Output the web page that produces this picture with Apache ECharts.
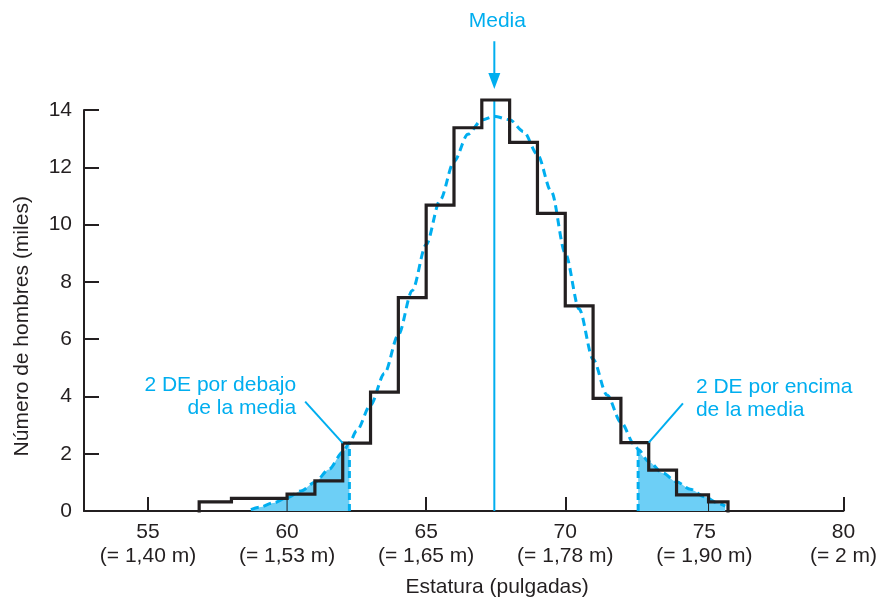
<!DOCTYPE html>
<html>
<head>
<meta charset="utf-8">
<script src="https://cdn.jsdelivr.net/npm/echarts@6/dist/echarts.min.js"></script>
<style>
  html, body { margin: 0; padding: 0; background: #ffffff; }
  #chart { width: 880px; height: 599px; }
</style>
</head>
<body>
<div id="chart"></div>
<script>
// Height classes (inches) and number of men per class (thousands)
const binEdges = [56.84, 58, 60, 61, 62, 63, 64, 65, 66, 67, 68, 69, 70, 71, 72, 73, 74, 75.15, 75.85];
const binCounts = [0.32, 0.44, 0.59, 1.05, 2.37, 4.15, 7.45, 10.68, 13.38, 14.35, 12.87, 10.39, 7.16, 3.93, 2.39, 1.43, 0.56, 0.32];

// Internal class boundaries drawn as thin rules down to the axis
const thinEdges = [60, 75.15];

// Fitted bell curve, sampled points (inches, thousands)
const curveX = [58.7, 59.0, 59.5, 60.0, 60.5, 61.0, 61.5, 62.0, 62.24, 62.5,
                63.0, 63.5, 64.0, 64.5, 65.0, 65.5, 66.0, 66.5, 67.0, 67.45,
                68.0, 68.5, 69.0, 69.5, 70.0, 70.5, 71.0, 71.5, 72.0, 72.5,
                72.62, 73.0, 73.5, 74.0, 74.5, 75.0, 75.5, 75.75];
const curveY = [0.05, 0.13, 0.28, 0.46, 0.7, 1.0, 1.45, 2.05, 2.38, 2.8,
                3.7, 4.8, 6.15, 7.7, 9.3, 10.85, 12.2, 13.15, 13.65, 13.78,
                13.66, 13.25, 12.45, 11.15, 9.0, 7.05, 5.3, 4.05, 3.1, 2.3,
                2.15, 1.72, 1.33, 1.02, 0.76, 0.5, 0.27, 0.17];

// Mean and the two-standard-deviation limits
const meanX = 67.45;
const sdLow = 62.24;
const sdHigh = 72.62;

// Axis ticks and their metric equivalents
const xTicks = [55, 60, 65, 70, 75, 80];
const metricLabels = ['1,40 m', '1,53 m', '1,65 m', '1,78 m', '1,90 m', '2 m'];

// Leader line start points for the two notes
const noteLowStart = [60.65, 3.82];
const noteHighStart = [74.23, 3.76];

// Arrow marking the mean: tail and tip heights (thousands)
const arrowTail = 16.4;
const arrowTip = 14.73;

const BLUE = '#00aeef';
const FILL = '#6dcff6';
const INK = '#231f20';
const FONT = '"Liberation Sans", Arial, Helvetica, sans-serif';
const FS = 21;

// Outline of the histogram as one stepped path
const histPts = [[binEdges[0], 0]];
binCounts.forEach((c, i) => {
  histPts.push([binEdges[i], c], [binEdges[i + 1], c]);
});
histPts.push([binEdges[binEdges.length - 1], 0]);

function binHeightAt(x) {
  for (let i = 0; i < binCounts.length; i++) {
    if (x >= binEdges[i] && x < binEdges[i + 1]) return binCounts[i];
  }
  return 0;
}
function edgeLowerHeight(x) {
  const i = binEdges.indexOf(x);
  return Math.min(binCounts[i - 1], binCounts[i]);
}

const curvePts = curveX.map((x, i) => [x, curveY[i]]);
const lowTail = curvePts.filter(p => p[0] <= sdLow + 1e-9);
const highTail = curvePts.filter(p => p[0] >= sdHigh - 1e-9);
const curveAt = x => curveY[curveX.indexOf(x)];

const plain = { showSymbol: false, symbol: 'none', silent: true, animation: false, clip: false };
const SMOOTH = 0.3;

const series = [
  Object.assign({
    type: 'line', data: lowTail, smooth: SMOOTH, smoothMonotone: 'x', z: 1,
    lineStyle: { width: 0 }, areaStyle: { color: FILL, opacity: 1 }
  }, plain),
  Object.assign({
    type: 'line', data: highTail, smooth: SMOOTH, smoothMonotone: 'x', z: 1,
    lineStyle: { width: 0 }, areaStyle: { color: FILL, opacity: 1 }
  }, plain),
  Object.assign({
    type: 'line', data: curvePts, smooth: SMOOTH, smoothMonotone: 'x', z: 3,
    lineStyle: { color: BLUE, width: 3, type: [8, 5] }
  }, plain),
  Object.assign({
    type: 'line', data: [[sdLow, 0], [sdLow, curveAt(sdLow)]], z: 3,
    lineStyle: { color: BLUE, width: 3, type: [7, 4] }
  }, plain),
  Object.assign({
    type: 'line', data: [[sdHigh, 0], [sdHigh, curveAt(sdHigh)]], z: 3,
    lineStyle: { color: BLUE, width: 3, type: [7, 4] }
  }, plain),
  Object.assign({
    type: 'line', data: [[meanX, 0], [meanX, binHeightAt(meanX)]], z: 4,
    lineStyle: { color: BLUE, width: 2 }
  }, plain),
  Object.assign({
    type: 'line', data: histPts, z: 6,
    lineStyle: { color: INK, width: 3.2, join: 'miter', cap: 'square' }
  }, plain)
];

thinEdges.forEach(x => {
  series.push(Object.assign({
    type: 'line', data: [[x, 0], [x, edgeLowerHeight(x)]], z: 5,
    lineStyle: { color: INK, width: 1 }
  }, plain));
});

// Leader lines from the notes to the histogram corners at the 2 SD classes
series.push(Object.assign({
  type: 'line', data: [noteLowStart, [62, binHeightAt(62)]], z: 7,
  lineStyle: { color: BLUE, width: 2 }
}, plain));
series.push(Object.assign({
  type: 'line', data: [noteHighStart, [73, binHeightAt(72.5)]], z: 7,
  lineStyle: { color: BLUE, width: 2 }
}, plain));

const chart = echarts.init(document.getElementById('chart'));
chart.setOption({
  animation: false,
  backgroundColor: '#ffffff',
  grid: { left: 84, right: 33, top: 110, bottom: 88 },
  xAxis: {
    type: 'value', min: 52.7, max: 80,
    axisLine: { show: true, lineStyle: { color: INK, width: 2 } },
    axisTick: { show: true, inside: true, length: 14, customValues: xTicks,
                lineStyle: { color: INK, width: 2 } },
    axisLabel: {
      customValues: xTicks,
      formatter: v => v + '\n(= ' + metricLabels[xTicks.indexOf(v)] + ')',
      color: INK, fontSize: FS, lineHeight: 24, margin: 9, fontFamily: FONT
    },
    splitLine: { show: false }
  },
  yAxis: {
    type: 'value', min: 0, max: 14, interval: 2,
    axisLine: { show: true, lineStyle: { color: INK, width: 2 } },
    axisTick: { show: true, inside: true, length: 15, lineStyle: { color: INK, width: 2 } },
    axisLabel: { color: INK, fontSize: FS, margin: 12, fontFamily: FONT },
    splitLine: { show: false }
  },
  series: series
});

// Axis titles, notes and the mean arrow, placed from data coordinates
const toPx = p => chart.convertToPixel({ gridIndex: 0 }, p);
const pLow = toPx(noteLowStart);
const pHigh = toPx(noteHighStart);
const pAxisMid = toPx([67.55, 0]);
const pYMid = toPx([52.7, 6.45]);
const pTail = toPx([meanX, arrowTail]);
const pTip = toPx([meanX, arrowTip]);
const headLen = 16, headHalf = 6;

chart.setOption({
  graphic: [
    {
      type: 'line', silent: true, z: 10,
      shape: { x1: pTail[0], y1: pTail[1], x2: pTip[0], y2: pTip[1] - headLen + 2 },
      style: { stroke: BLUE, lineWidth: 2 }
    },
    {
      type: 'polygon', silent: true, z: 10,
      shape: { points: [[pTip[0] - headHalf, pTip[1] - headLen],
                        [pTip[0] + headHalf, pTip[1] - headLen],
                        [pTip[0], pTip[1]]] },
      style: { fill: BLUE }
    },
    {
      type: 'text', silent: true, z: 10,
      x: pTail[0] + 3, y: pTail[1] - 20,
      style: { text: 'Media', fill: BLUE, fontSize: FS, fontFamily: FONT,
               align: 'center', verticalAlign: 'middle' }
    },
    {
      type: 'text', silent: true, z: 10,
      x: pLow[0] - 9, y: pLow[1] - 5,
      style: { text: '2 DE por debajo\nde la media', fill: BLUE, fontSize: FS,
               fontFamily: FONT, lineHeight: 23, align: 'right', verticalAlign: 'middle' }
    },
    {
      type: 'text', silent: true, z: 10,
      x: pHigh[0] + 13, y: pHigh[1] - 5,
      style: { text: '2 DE por encima\nde la media', fill: BLUE, fontSize: FS,
               fontFamily: FONT, lineHeight: 23, align: 'left', verticalAlign: 'middle' }
    },
    {
      type: 'text', silent: true,
      x: pAxisMid[0], y: 587,
      style: { text: 'Estatura (pulgadas)', fill: INK, fontSize: FS,
               fontFamily: FONT, align: 'center', verticalAlign: 'middle' }
    },
    {
      type: 'text', silent: true,
      x: 22, y: pYMid[1], rotation: Math.PI / 2,
      style: { text: 'Número de hombres (miles)', fill: INK, fontSize: FS,
               fontFamily: FONT, align: 'center', verticalAlign: 'middle' }
    }
  ]
});
</script>
</body>
</html>
